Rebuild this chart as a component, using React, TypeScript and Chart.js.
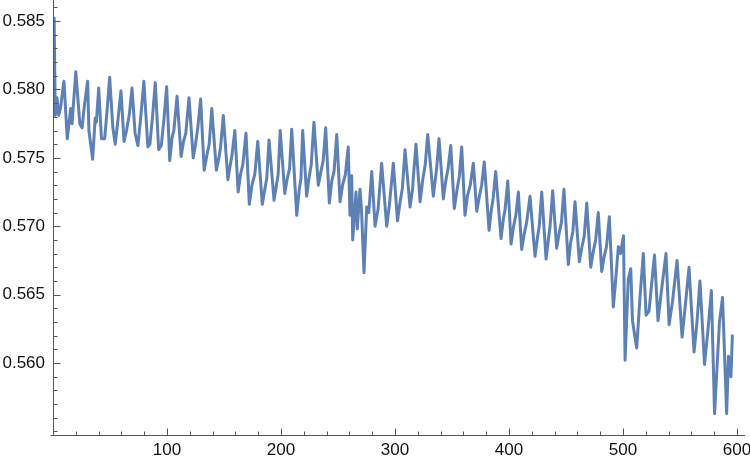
import React, { useEffect, useRef } from "react";
import { Chart, registerables } from "chart.js";

Chart.register(...registerables);

const xValues = [
  1, 2, 3.5, 5, 6.5, 9.6, 12.5, 15.5, 16.7, 20, 23.5, 25.5, 27.5, 30.4, 31.5, 34.8, 37, 38, 40.1, 42.5,
  45.3, 47.5, 49.7, 52.5, 54.6, 57, 59.6, 62.3, 64.5, 67, 69.3, 72, 74.5, 77, 79.7, 83.2, 85, 87.5, 89.7, 92.7,
  95, 97.5, 99.7, 102.4, 104.5, 106, 108.8, 112.4, 114.5, 116.5, 119.3, 123, 125, 127, 129.5, 132.6, 135, 137, 139.3, 143.3,
  145.5, 147, 149.4, 153.4, 155.5, 157, 159.5, 162.4, 164.5, 166.5, 169.3, 172.2, 174.5, 177, 179.6, 183.6, 186, 187.5, 189.5, 193.9,
  196, 197.5, 199.3, 203.3, 205.5, 207.5, 209.4, 213.8, 216, 217.5, 219, 222.5, 224.5, 226.5, 228.9, 232.7, 235, 237, 239.2, 242.4,
  244.5, 246.5, 248.9, 251.8, 254, 256.5, 259, 260.5, 262, 262.9, 265.8, 266.9, 269.3, 270.6, 272.8, 275.2, 277, 279.6, 282.5, 285.1,
  288.3, 292.7, 295, 298.5, 302.2, 304.5, 306.5, 308.8, 313.2, 315.5, 316, 318.4, 322, 324.5, 326.5, 328.7, 333.6, 335.5, 336.5, 338.6,
  342.4, 344.5, 346.5, 348.9, 352, 354.5, 356.5, 358.5, 361.4, 363.5, 366, 368.7, 371.7, 374, 376, 378.3, 382.5, 384.5, 386, 388.3,
  393, 395, 396.5, 398.9, 401.8, 404, 406, 408.2, 411.1, 413.5, 415.5, 418.4, 422.8, 425, 426.5, 428.7, 432.5, 434.5, 436, 438.3,
  441.8, 444, 446, 448.2, 452, 454, 456, 457.9, 461.7, 464, 466, 468.2, 471.7, 474, 476, 478.3, 481.3, 483.5, 485.5, 488,
  491.5, 493.5, 495.9, 497.8, 500.4, 501.8, 504.6, 506.8, 508.3, 512, 514.9, 517.8, 520.2, 522.8, 527.6, 530.7, 533.3, 537.7, 540.4, 543.4,
  547.4, 551.8, 554.4, 557.9, 562.3, 564.9, 567.5, 571.5, 574.6, 577.5, 580.3, 584.6, 587.3, 590.9, 592.5, 594.7, 595.9,
];

const yValues = [
  0.5852, 0.5781, 0.5794, 0.5781, 0.5786, 0.5806, 0.5764, 0.5786, 0.5775, 0.5813, 0.5775, 0.5772, 0.5788, 0.5806, 0.577, 0.5749, 0.5779, 0.5776, 0.5801, 0.5764,
  0.5764, 0.5785, 0.5809, 0.5772, 0.576, 0.5778, 0.5799, 0.5762, 0.577, 0.5782, 0.5801, 0.5768, 0.5759, 0.578, 0.5806, 0.5758, 0.576, 0.5782, 0.5805, 0.5756,
  0.5759, 0.578, 0.5802, 0.5748, 0.5765, 0.577, 0.5795, 0.5751, 0.5762, 0.5768, 0.5794, 0.575, 0.576, 0.5772, 0.5793, 0.5741, 0.5752, 0.576, 0.5786, 0.5741,
  0.575, 0.5758, 0.5781, 0.5734, 0.5745, 0.5752, 0.577, 0.5725, 0.5738, 0.5745, 0.5768, 0.5716, 0.573, 0.5738, 0.5762, 0.5716, 0.5728, 0.5735, 0.5763, 0.5719,
  0.573, 0.5738, 0.577, 0.5724, 0.5735, 0.5742, 0.5771, 0.5708, 0.5727, 0.5735, 0.577, 0.5722, 0.5735, 0.5745, 0.5776, 0.573, 0.574, 0.5748, 0.5772, 0.5717,
  0.5733, 0.574, 0.5767, 0.5718, 0.573, 0.5738, 0.5758, 0.5708, 0.5737, 0.569, 0.5725, 0.5698, 0.5727, 0.5712, 0.5666, 0.5714, 0.571, 0.574, 0.57, 0.5712,
  0.5746, 0.57, 0.5715, 0.5746, 0.5704, 0.5718, 0.5728, 0.5756, 0.5714, 0.5728, 0.5735, 0.576, 0.5718, 0.5735, 0.5745, 0.5767, 0.5722, 0.5735, 0.5742, 0.5764,
  0.572, 0.5733, 0.5742, 0.5759, 0.5713, 0.5727, 0.5737, 0.5758, 0.5708, 0.5722, 0.573, 0.5746, 0.5711, 0.5722, 0.573, 0.5747, 0.5697, 0.5712, 0.572, 0.574,
  0.5691, 0.5705, 0.5712, 0.5733, 0.5687, 0.57, 0.5708, 0.5725, 0.5683, 0.5695, 0.5703, 0.5722, 0.5678, 0.5692, 0.57, 0.5725, 0.5676, 0.569, 0.57, 0.5726,
  0.5684, 0.5695, 0.5703, 0.5727, 0.5672, 0.5688, 0.5696, 0.5718, 0.5674, 0.5685, 0.5693, 0.5717, 0.567, 0.5682, 0.569, 0.571, 0.5667, 0.5678, 0.5685, 0.5707,
  0.5641, 0.566, 0.5685, 0.568, 0.5693, 0.5602, 0.5661, 0.5669, 0.5631, 0.5611, 0.5648, 0.568, 0.5635, 0.5638, 0.5679, 0.5631, 0.565, 0.568, 0.5628, 0.5645,
  0.5675, 0.5619, 0.564, 0.567, 0.5608, 0.563, 0.566, 0.5599, 0.5625, 0.5653, 0.5563, 0.563, 0.5648, 0.5563, 0.5605, 0.559, 0.562,
];

const xMajorTicks = [100, 200, 300, 400, 500, 600];
const xMinorTicks = [
  20, 40, 60, 80, 120, 140, 160, 180, 220, 240, 260, 280, 320, 340, 360, 380, 420, 440, 460, 480, 520, 540, 560, 580,
];
const yMajorTicks = [0.56, 0.565, 0.57, 0.575, 0.58, 0.585];
const yMinorTicks = [
  0.555, 0.556, 0.557, 0.558, 0.559, 0.561, 0.562, 0.563, 0.564, 0.566, 0.567, 0.568, 0.569, 0.571, 0.572, 0.573, 0.574,
  0.576, 0.577, 0.578, 0.579, 0.581, 0.582, 0.583, 0.584, 0.586,
];

const LINE_COLOR = "#5E81B5";
const AXIS_COLOR = "#555555";
const LABEL_COLOR = "#111111";
const FONT_FAMILY = "'Liberation Sans', Arial, sans-serif";

const axesPlugin = {
  id: "mmaAxes",
  afterDraw(chart: any) {
    const { ctx, chartArea, scales } = chart;
    const xs = scales.x;
    const ys = scales.y;
    const left = Math.round(chartArea.left) + 0.5;
    const bottom = Math.round(chartArea.bottom) + 0.5;
    ctx.save();
    ctx.strokeStyle = AXIS_COLOR;
    ctx.lineWidth = 1;
    ctx.beginPath();
    ctx.moveTo(left - 3, bottom);
    ctx.lineTo(chartArea.right, bottom);
    ctx.moveTo(left, chartArea.top);
    ctx.lineTo(left, bottom);
    const drawX = (v: number, len: number) => {
      const px = Math.round(xs.getPixelForValue(v)) + 0.5;
      ctx.moveTo(px, bottom);
      ctx.lineTo(px, bottom - len);
    };
    const drawY = (v: number, len: number) => {
      const py = Math.round(ys.getPixelForValue(v)) + 0.5;
      ctx.moveTo(left, py);
      ctx.lineTo(left + len, py);
    };
    xMajorTicks.forEach((v) => drawX(v, 7));
    xMinorTicks.forEach((v) => drawX(v, 4));
    yMajorTicks.forEach((v) => drawY(v, 7));
    yMinorTicks.forEach((v) => drawY(v, 4));
    ctx.stroke();
    ctx.restore();
  },
};

export default function App() {
  const canvasRef = useRef<HTMLCanvasElement | null>(null);

  useEffect(() => {
    document.body.style.margin = "0";
    const canvas = canvasRef.current;
    if (!canvas) return;
    const points = xValues.map((x, i) => ({ x, y: yValues[i] }));
    const chart = new Chart(canvas, {
      type: "line",
      data: {
        datasets: [
          {
            data: points,
            borderColor: LINE_COLOR,
            borderWidth: 3,
            pointRadius: 0,
            tension: 0,
            fill: false,
            borderJoinStyle: "round",
            borderCapStyle: "round",
          },
        ],
      },
      options: {
        animation: false,
        responsive: false,
        maintainAspectRatio: false,
        events: [],
        layout: { padding: { top: 0, right: 5, left: 0, bottom: 0 } },
        plugins: {
          legend: { display: false },
          tooltip: { enabled: false },
          title: { display: false },
        },
        scales: {
          x: {
            type: "linear",
            min: 0,
            max: 607,
            grid: { display: false, drawTicks: false, tickLength: 0 },
            border: { display: false },
            afterBuildTicks: (s: any) => {
              s.ticks = xMajorTicks.map((v) => ({ value: v }));
            },
            afterFit: (s: any) => {
              s.height = 25;
              s.paddingLeft = 0;
              s.paddingRight = 0;
            },
            ticks: {
              autoSkip: false,
              maxRotation: 0,
              padding: 5,
              color: LABEL_COLOR,
              font: { family: FONT_FAMILY, size: 17 },
              callback: (v: any) => String(v),
            },
          },
          y: {
            type: "linear",
            min: 0.55474,
            max: 0.58654,
            grid: { display: false, drawTicks: false, tickLength: 0 },
            border: { display: false },
            afterBuildTicks: (s: any) => {
              s.ticks = yMajorTicks.map((v) => ({ value: v }));
            },
            afterFit: (s: any) => {
              s.width = 53;
              s.paddingTop = 0;
              s.paddingBottom = 0;
            },
            ticks: {
              autoSkip: false,
              padding: 8,
              color: LABEL_COLOR,
              font: { family: FONT_FAMILY, size: 17 },
              callback: (v: any) => Number(v).toFixed(3),
            },
          },
        },
      },
      plugins: [axesPlugin],
    });
    return () => chart.destroy();
  }, []);

  return (
    <div style={{ width: 750, height: 460 }}>
      <canvas ref={canvasRef} width={750} height={460} style={{ display: "block" }} />
    </div>
  );
}
